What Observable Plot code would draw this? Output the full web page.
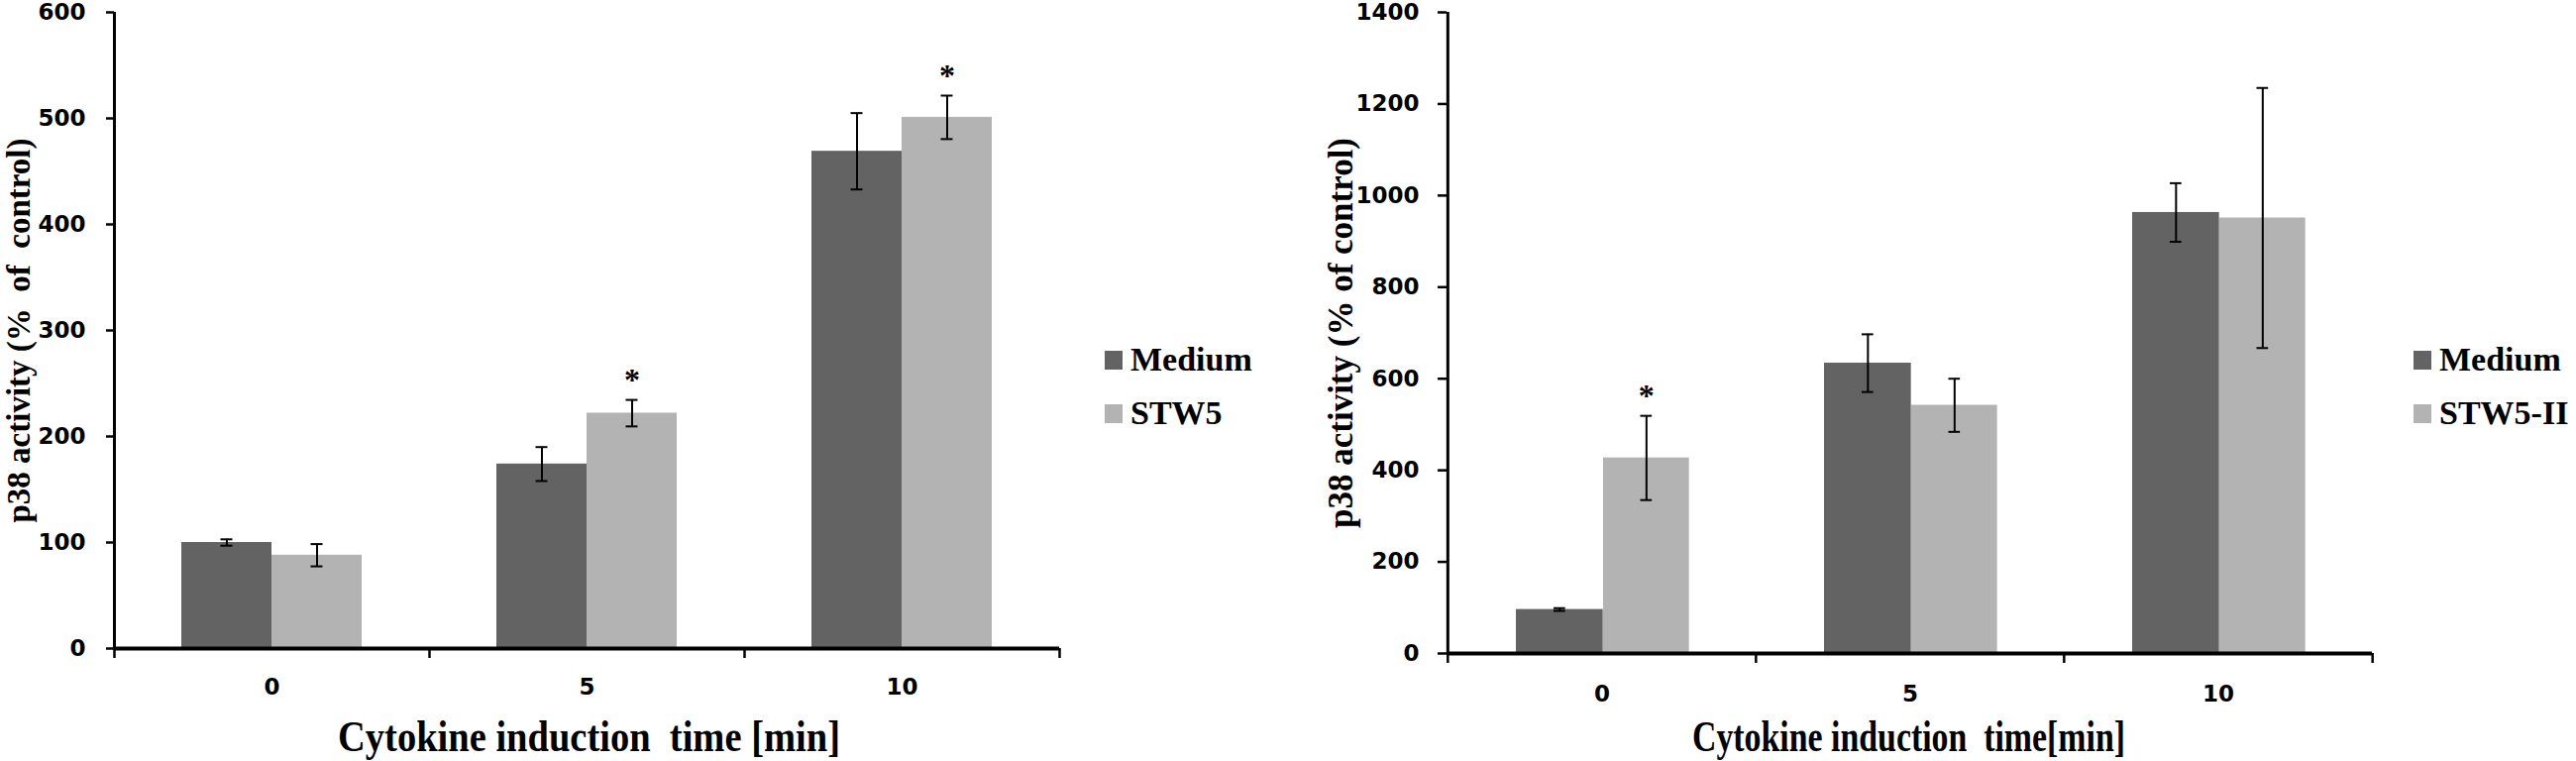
<!DOCTYPE html>
<html>
<head>
<meta charset="utf-8">
<script src="https://cdn.jsdelivr.net/npm/d3@7"></script>
<script src="https://cdn.jsdelivr.net/npm/@observablehq/plot@0.6"></script>
<style>
  body { margin: 0; background: #fff; }
  #wrap { display: flex; width: 2600px; height: 768px; }
  .panel { position: relative; width: 1300px; height: 768px; }
  svg text { white-space: pre; }
  .legend-item { position: absolute; height: 40px; display: flex; align-items: center;
    font-family: "Liberation Serif", "Times New Roman", serif; font-weight: bold; font-size: 34px; line-height: 40px; color: #000; }
  .swatch { width: 18px; height: 19px; margin-right: 8px; }
</style>
</head>
<body>
<div id="wrap"></div>
<script>
// ---- data ----
const times = ["0", "5", "10"];
const colors = ["#636363", "#b3b3b3"];

const leftSeries = ["Medium", "STW5"];
const leftMedium = [100, 174, 469];
const leftMediumErr = [3, 16, 36];
const leftSTW5 = [88, 222, 501];
const leftSTW5Err = [10.5, 12.5, 20.5];
const leftStarsSTW5 = [false, true, true];
const leftYTicks = [0, 100, 200, 300, 400, 500, 600];

const rightSeries = ["Medium", "STW5-II"];
const rightMedium = [96, 634, 963];
const rightMediumErr = [3, 63, 64];
const rightSTW5II = [427, 542, 951];
const rightSTW5IIErr = [92, 58, 284];
const rightStarsSTW5II = [true, false, false];
const rightYTicks = [0, 200, 400, 600, 800, 1000, 1200, 1400];

const yTitleLeft = "p38 activity (%  of  control)";
const yTitleRight = "p38 activity (% of control)";
const xTitleLeft = "Cytokine induction  time [min]";
const xTitleRight = "Cytokine induction  time[min]";

function makePanel(cfg) {
  const W = 1300, H = 768;
  const plotW = W - cfg.mL - cfg.mR;
  const plotH = H - cfg.mT - cfg.mB;
  const step = plotW / times.length;
  const rows = cfg.values.map((vals, s) =>
    times.map((t, i) => ({time: t, value: vals[i], err: cfg.errs[s][i], star: cfg.stars[s][i]})));
  const marks = [];
  rows.forEach((data, s) => {
    const left = cfg.barStart[s], right = left + cfg.barW[s];
    const c = (left + right) / 2;
    marks.push(Plot.barY(data, {x: "time", y: "value", fill: colors[s], insetLeft: left, insetRight: step - right}));
    marks.push(Plot.ruleX(data, {x: "time", y1: d => d.value - d.err, y2: d => d.value + d.err,
      dx: c - step / 2, stroke: "#000", strokeWidth: 2}));
    marks.push(Plot.tickY(data, {x: "time", y: d => d.value + d.err, insetLeft: c - 6, insetRight: step - c - 6, stroke: "#000", strokeWidth: 2}));
    marks.push(Plot.tickY(data, {x: "time", y: d => d.value - d.err, insetLeft: c - 6, insetRight: step - c - 6, stroke: "#000", strokeWidth: 2}));
    marks.push(Plot.text(data.filter(d => d.star), {x: "time", y: d => d.value + d.err, text: () => "*",
      dx: c - step / 2, dy: -20, fontSize: 32, fontWeight: "bold", fontFamily: "Liberation Serif", fill: "#000"}));
  });
  // axes lines and ticks
  marks.push(Plot.ruleY([0], {stroke: "#000", strokeWidth: 4}));
  marks.push(Plot.ruleX([times[0]], {x: d => d, dx: -step / 2, stroke: "#000", strokeWidth: 3}));
  marks.push(Plot.ruleX(times, {x: d => d, dx: -step / 2, insetTop: plotH, insetBottom: -10, stroke: "#000", strokeWidth: 2.5}));
  marks.push(Plot.ruleX([times[times.length - 1]], {x: d => d, dx: step / 2, insetTop: plotH, insetBottom: -10, stroke: "#000", strokeWidth: 2.5}));
  marks.push(Plot.axisY({ticks: cfg.yTicks, tickFormat: d => String(d), tickSize: cfg.yTickSize, tickPadding: cfg.yTickPad, strokeWidth: 2.5, label: null,
    fontSize: 23, fontWeight: "bold", fontFamily: "DejaVu Sans", fill: "#000", stroke: "#000"}));
  marks.push(Plot.axisX({tickSize: 0, tickPadding: cfg.xTickPad, label: null,
    fontSize: 23, fontWeight: "bold", fontFamily: "DejaVu Sans", fill: "#000"}));
  // titles
  marks.push(Plot.text([cfg.yTitle], {frameAnchor: "left", textAnchor: "middle", lineAnchor: "middle", rotate: -90, dx: cfg.yTitleDx,
    fontSize: cfg.yTitleSize, fontWeight: "bold", fontFamily: "Liberation Serif", fill: "#000"}));
  marks.push(Plot.text([cfg.xTitle], {frameAnchor: "bottom", textAnchor: "middle", lineAnchor: "middle", dy: cfg.xTitleDy, dx: cfg.xTitleDx,
    fontSize: 44, fontWeight: "bold", fontFamily: "Liberation Serif", fill: "#000"}));

  const svg = Plot.plot({
    width: W, height: H,
    marginLeft: cfg.mL, marginRight: cfg.mR, marginTop: cfg.mT, marginBottom: cfg.mB,
    x: {type: "band", domain: times, padding: 0, axis: null},
    y: {domain: [0, cfg.yMax], axis: null},
    style: {background: "#fff", overflow: "visible", fontFamily: "DejaVu Sans"},
    marks
  });
  d3.select(svg).selectAll("text").each(function () {
    if (this.textContent === cfg.xTitle) {
      d3.select(this).attr("textLength", cfg.xTitleLen).attr("lengthAdjust", "spacingAndGlyphs");
    }
  });
  const panel = document.createElement("div");
  panel.className = "panel";
  panel.appendChild(svg);
  cfg.series.forEach((name, s) => {
    const item = document.createElement("div");
    item.className = "legend-item";
    item.style.left = cfg.legendX + "px";
    item.style.top = (cfg.legendY[s] - 20) + "px";
    const sw = document.createElement("span");
    sw.className = "swatch";
    sw.style.background = colors[s];
    const tx = document.createElement("span");
    tx.textContent = name;
    item.appendChild(sw);
    item.appendChild(tx);
    panel.appendChild(item);
  });
  document.getElementById("wrap").appendChild(panel);
}

makePanel({
  mL: 115, mR: 231, mT: 12, mB: 114, yMax: 600, yTicks: leftYTicks, yTickSize: 8, yTickPad: 21, xTickPad: 30,
  series: leftSeries, values: [leftMedium, leftSTW5], errs: [leftMediumErr, leftSTW5Err],
  stars: [[false, false, false], leftStarsSTW5],
  barStart: [68, 159], barW: [91, 91],
  yTitle: yTitleLeft, yTitleDx: -96, yTitleSize: 33,
  xTitle: xTitleLeft, xTitleDx: 2, xTitleDy: 89, xTitleLen: 507,
  legendX: 1115, legendY: [363, 417]
});
makePanel({
  mL: 160, mR: 206, mT: 12, mB: 109, yMax: 1400, yTicks: rightYTicks, yTickSize: 9, yTickPad: 19, xTickPad: 32,
  series: rightSeries, values: [rightMedium, rightSTW5II], errs: [rightMediumErr, rightSTW5IIErr],
  stars: [[false, false, false], rightStarsSTW5II],
  barStart: [69, 157], barW: [88, 87],
  yTitle: yTitleRight, yTitleDx: -107, yTitleSize: 35,
  xTitle: xTitleRight, xTitleDx: -1, xTitleDy: 84, xTitleLen: 437,
  legendX: 1136, legendY: [363, 417]
});
</script>
</body>
</html>
